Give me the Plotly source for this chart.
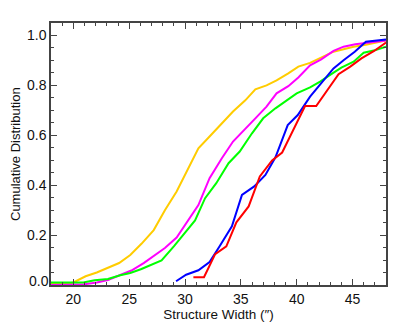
import plotly.graph_objects as go

# curve samples (structure width in arcsec, cumulative fraction)
yellow_x = [18.0, 19.5, 20.0, 21.1, 22.1, 23.1, 24.1, 25.1, 26.1, 27.2, 28.2, 29.25, 30.1, 31.2,
            32.2, 33.3, 34.3, 35.4, 36.3, 37.3, 38.2, 39.25, 40.15, 41.2, 42.2, 43.3, 44.2, 45.1,
            46.2, 47.2, 48.0]
yellow_y = [0.005, 0.005, 0.01, 0.035, 0.05, 0.068, 0.088, 0.12, 0.165, 0.22, 0.30, 0.375, 0.448,
            0.548, 0.595, 0.648, 0.695, 0.74, 0.784, 0.80, 0.82, 0.848, 0.875, 0.89, 0.912, 0.935,
            0.945, 0.955, 0.963, 0.972, 0.98]

magenta_x = [18.0, 20.0, 21.0, 22.1, 23.1, 24.2, 25.2, 26.3, 27.2, 28.2, 29.25, 30.1, 31.2, 32.2,
             33.3, 34.3, 35.4, 36.3, 37.3, 38.2, 39.25, 40.15, 41.2, 42.2, 43.3, 44.2, 45.25, 46.2,
             47.2, 48.0]
magenta_y = [0.0, 0.0, 0.003, 0.01, 0.02, 0.04, 0.058, 0.088, 0.117, 0.148, 0.19, 0.248, 0.32,
             0.428, 0.508, 0.575, 0.628, 0.668, 0.715, 0.768, 0.797, 0.832, 0.88, 0.904, 0.938,
             0.955, 0.965, 0.97, 0.975, 0.98]

green_x = [18.0, 20.9, 21.9, 23.1, 24.2, 25.1, 26.1, 27.2, 27.9, 29.0, 30.0, 30.9, 31.8, 32.8,
           33.9, 34.9, 36.0, 37.0, 38.1, 39.1, 40.0, 41.2, 42.1, 43.1, 44.0, 45.1, 46.0, 47.0, 48.0]
green_y = [0.01, 0.01, 0.019, 0.024, 0.039, 0.048, 0.064, 0.084, 0.099, 0.155, 0.212, 0.259, 0.348,
           0.408, 0.488, 0.535, 0.608, 0.668, 0.708, 0.741, 0.768, 0.792, 0.815, 0.845, 0.871,
           0.895, 0.931, 0.941, 0.955]

blue_x = [29.2, 30.1, 31.2, 32.2, 33.1, 34.2, 35.1, 36.2, 37.2, 38.1, 39.2, 40.1, 41.2, 42.2,
          43.3, 44.2, 45.2, 46.2, 48.0]
blue_y = [0.015, 0.041, 0.059, 0.092, 0.155, 0.235, 0.361, 0.395, 0.441, 0.512, 0.641, 0.681,
          0.755, 0.808, 0.868, 0.901, 0.935, 0.975, 0.984]

red_x = [30.75, 31.7, 32.7, 33.7, 34.6, 35.7, 36.7, 37.8, 38.7, 39.7, 40.75, 41.75, 42.75, 43.75,
         44.8, 45.8, 46.9, 47.9, 48.0]
red_y = [0.031, 0.031, 0.124, 0.155, 0.251, 0.315, 0.435, 0.499, 0.531, 0.62, 0.717, 0.717, 0.78,
         0.845, 0.875, 0.908, 0.937, 0.971, 0.972]

y_ticks = [0.0, 0.2, 0.4, 0.6, 0.8, 1.0]
y_ticklabels = ["0.0", "0.2", "0.4", "0.6", "0.8", "1.0"]

series = [
    (yellow_x, yellow_y, "#FFCC00"),
    (magenta_x, magenta_y, "#FF00FF"),
    (green_x, green_y, "#00FF00"),
    (blue_x, blue_y, "#0000FF"),
    (red_x, red_y, "#FF0000"),
]

FONT = "Liberation Sans, Arial, Helvetica, sans-serif"
AXIS = "#444444"
TXT = "#111111"

fig = go.Figure()
for xs, ys, col in series:
    fig.add_trace(go.Scatter(x=xs, y=ys, mode="lines", line=dict(color=col, width=2),
                             showlegend=False, hoverinfo="skip"))

common = dict(showline=True, linecolor=AXIS, linewidth=1.5, mirror="ticks", ticks="inside",
              tickcolor=AXIS, tickwidth=1.2, ticklen=6, showgrid=False, zeroline=False,
              tickfont=dict(family=FONT, size=14, color=TXT))

fig.update_xaxes(range=[18, 48], dtick=5, tick0=0,
                 minor=dict(dtick=1, ticks="inside", ticklen=3, tickcolor=AXIS, showgrid=False),
                 title=dict(text="Structure Width (″)", font=dict(family=FONT, size=13.5, color=TXT),
                            standoff=4),
                 **common)
# the bottom label sits a little above its tick (IDL style), so it is drawn separately
fig.update_yaxes(range=[0, 1.05], tickvals=y_ticks, ticktext=[""] + y_ticklabels[1:],
                 minor=dict(dtick=0.05, ticks="inside", ticklen=3, tickcolor=AXIS, showgrid=False),
                 **common)
fig.add_annotation(text=y_ticklabels[0], xref="paper", x=0, y=y_ticks[0], xanchor="right",
                   yanchor="middle", xshift=0, yshift=4, showarrow=False,
                   font=dict(family=FONT, size=14, color=TXT))
fig.add_annotation(text="Cumulative Distribution", xref="paper", yref="paper", x=0, y=0.5,
                   xanchor="center", yanchor="middle", xshift=-36, textangle=-90, showarrow=False,
                   font=dict(family=FONT, size=13, color=TXT))

# page body has an 8px margin, so the figure is 8px smaller than the window
fig.update_layout(width=407, height=324, plot_bgcolor="white", paper_bgcolor="white",
                  margin=dict(l=43, r=29, t=15, b=47))

fig.write_html("out.html")
